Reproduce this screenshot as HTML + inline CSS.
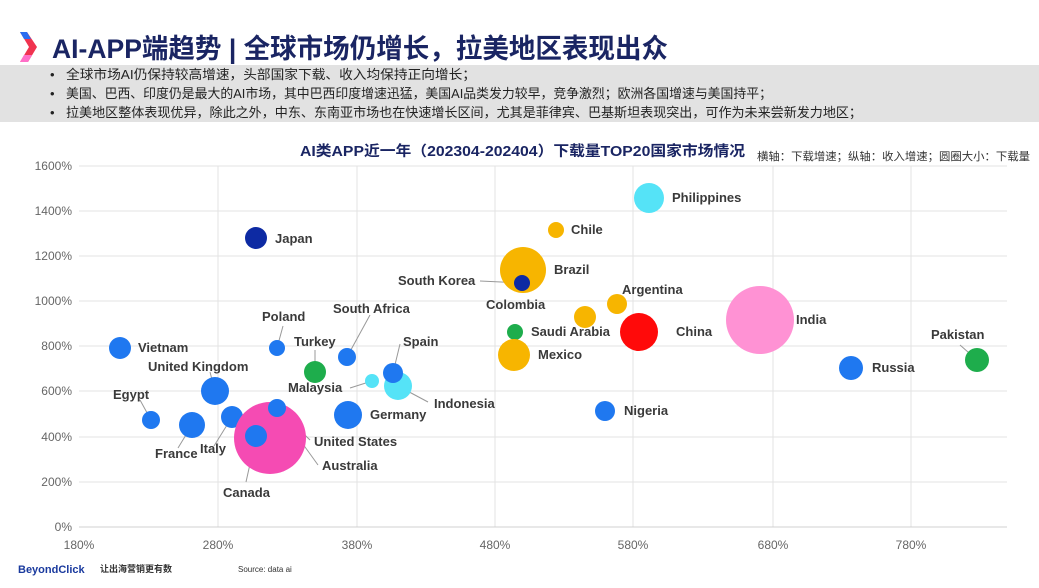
<!DOCTYPE html>
<html><head><meta charset="utf-8"><style>
body{margin:0;width:1039px;height:583px;background:#fff;overflow:hidden;font-family:"Liberation Sans","Noto Sans CJK SC",sans-serif;}
</style></head><body>
<svg width="1039" height="583" xmlns="http://www.w3.org/2000/svg" font-family="Liberation Sans, Noto Sans CJK SC, sans-serif">
<polygon points="20,32 27,32 37,47 28,62 20,62 29,47" fill="#f0334f"/>
<polygon points="20,32 27,32 31,39 24,39" fill="#2a6df0"/>
<polygon points="24,55 32,55 28,62 20,62" fill="#ff6fc8"/>
<text x="52" y="58" font-size="27" font-weight="bold" fill="#1a2563" textLength="616" lengthAdjust="spacingAndGlyphs">AI-APP端趋势 | 全球市场仍增长，拉美地区表现出众</text>
<rect x="0" y="65" width="1039" height="57" fill="#e2e2e2"/>
<g font-size="13" fill="#222">
<text x="50" y="79">•</text><text x="66" y="79" textLength="410" lengthAdjust="spacingAndGlyphs">全球市场AI仍保持较高增速，头部国家下载、收入均保持正向增长；</text>
<text x="50" y="98">•</text><text x="66" y="98" textLength="706" lengthAdjust="spacingAndGlyphs">美国、巴西、印度仍是最大的AI市场，其中巴西印度增速迅猛，美国AI品类发力较早，竞争激烈；欧洲各国增速与美国持平；</text>
<text x="50" y="117">•</text><text x="66" y="117" textLength="796" lengthAdjust="spacingAndGlyphs">拉美地区整体表现优异，除此之外，中东、东南亚市场也在快速增长区间，尤其是菲律宾、巴基斯坦表现突出，可作为未来尝新发力地区；</text>
</g>
<text x="300" y="156" font-size="14.5" font-weight="bold" fill="#1a2563" textLength="445" lengthAdjust="spacingAndGlyphs">AI类APP近一年（202304-202404）下载量TOP20国家市场情况</text>
<text x="757" y="160" font-size="11" fill="#333" textLength="273" lengthAdjust="spacingAndGlyphs">横轴：下载增速；纵轴：收入增速；圆圈大小：下载量</text>
<g stroke="#e3e3e3" stroke-width="1">
<line x1="79" y1="166" x2="1007" y2="166"/><line x1="79" y1="211" x2="1007" y2="211"/><line x1="79" y1="256" x2="1007" y2="256"/><line x1="79" y1="301" x2="1007" y2="301"/><line x1="79" y1="346" x2="1007" y2="346"/><line x1="79" y1="391" x2="1007" y2="391"/><line x1="79" y1="437" x2="1007" y2="437"/><line x1="79" y1="482" x2="1007" y2="482"/>
<line x1="218" y1="166" x2="218" y2="527"/><line x1="357" y1="166" x2="357" y2="527"/><line x1="495" y1="166" x2="495" y2="527"/><line x1="633" y1="166" x2="633" y2="527"/><line x1="773" y1="166" x2="773" y2="527"/><line x1="911" y1="166" x2="911" y2="527"/>
</g>
<line x1="79" y1="527" x2="1007" y2="527" stroke="#d0d0d0"/>
<g font-size="12" fill="#666" text-anchor="end">
<text x="72" y="170">1600%</text><text x="72" y="215">1400%</text><text x="72" y="260">1200%</text><text x="72" y="305">1000%</text><text x="72" y="350">800%</text><text x="72" y="395">600%</text><text x="72" y="441">400%</text><text x="72" y="486">200%</text><text x="72" y="531">0%</text>
</g>
<g font-size="12" fill="#666" text-anchor="middle">
<text x="79" y="549">180%</text><text x="218" y="549">280%</text><text x="357" y="549">380%</text><text x="495" y="549">480%</text><text x="633" y="549">580%</text><text x="773" y="549">680%</text><text x="911" y="549">780%</text>
</g>
<g stroke="#999" stroke-width="1" fill="none">
<line x1="256" y1="437" x2="246" y2="482"/><line x1="277" y1="408" x2="318" y2="465"/><line x1="277" y1="408" x2="310" y2="440"/>
<line x1="232" y1="417" x2="214" y2="446"/><line x1="192" y1="425" x2="178" y2="448"/><line x1="151" y1="420" x2="140" y2="400"/>
<line x1="372" y1="381" x2="350" y2="388"/><line x1="398" y1="386" x2="428" y2="402"/><line x1="393" y1="373" x2="400" y2="344"/>
<line x1="347" y1="357" x2="370" y2="315"/><line x1="277" y1="348" x2="283" y2="326"/><line x1="315" y1="372" x2="315" y2="350"/>
<line x1="522" y1="283" x2="480" y2="281"/><line x1="977" y1="360" x2="960" y2="345"/><line x1="215" y1="391" x2="210" y2="372"/>
</g>
<g>
<circle cx="649" cy="198" r="15" fill="#55e3f7"/>
<circle cx="556" cy="230" r="8" fill="#f7b500"/>
<circle cx="256" cy="238" r="11" fill="#0d2aa3"/>
<circle cx="523" cy="270" r="23" fill="#f7b500"/>
<circle cx="522" cy="283" r="8" fill="#0d2aa3"/>
<circle cx="617" cy="304" r="10" fill="#f7b500"/>
<circle cx="585" cy="317" r="11" fill="#f7b500"/>
<circle cx="515" cy="332" r="8" fill="#1ead4c"/>
<circle cx="639" cy="332" r="19" fill="#ff0a0a"/>
<circle cx="760" cy="320" r="34" fill="#ff92d4"/>
<circle cx="514" cy="355" r="16" fill="#f7b500"/>
<circle cx="120" cy="348" r="11" fill="#1f78f0"/>
<circle cx="277" cy="348" r="8" fill="#1f78f0"/>
<circle cx="347" cy="357" r="9" fill="#1f78f0"/>
<circle cx="315" cy="372" r="11" fill="#1ead4c"/>
<circle cx="372" cy="381" r="7" fill="#55e3f7"/>
<circle cx="398" cy="386" r="14" fill="#55e3f7"/>
<circle cx="393" cy="373" r="10" fill="#1f78f0"/>
<circle cx="215" cy="391" r="14" fill="#1f78f0"/>
<circle cx="977" cy="360" r="12" fill="#1ead4c"/>
<circle cx="851" cy="368" r="12" fill="#1f78f0"/>
<circle cx="151" cy="420" r="9" fill="#1f78f0"/>
<circle cx="232" cy="417" r="11" fill="#1f78f0"/>
<circle cx="605" cy="411" r="10" fill="#1f78f0"/>
<circle cx="348" cy="415" r="14" fill="#1f78f0"/>
<circle cx="192" cy="425" r="13" fill="#1f78f0"/>
<circle cx="270" cy="438" r="36" fill="#f54bb3"/>
<circle cx="277" cy="408" r="9" fill="#1f78f0"/>
<circle cx="256" cy="436" r="11" fill="#1f78f0"/>
</g>
<g font-size="13" font-weight="bold" fill="#3a3a3a">
<text x="672" y="202">Philippines</text><text x="571" y="234">Chile</text><text x="275" y="243">Japan</text>
<text x="554" y="274">Brazil</text><text x="398" y="285">South Korea</text><text x="622" y="294">Argentina</text>
<text x="486" y="309">Colombia</text><text x="531" y="336">Saudi Arabia</text><text x="676" y="336">China</text>
<text x="796" y="324">India</text><text x="538" y="359">Mexico</text><text x="138" y="352">Vietnam</text>
<text x="262" y="321">Poland</text><text x="333" y="313">South Africa</text><text x="294" y="346">Turkey</text>
<text x="403" y="346">Spain</text><text x="148" y="371">United Kingdom</text><text x="931" y="339">Pakistan</text>
<text x="872" y="372">Russia</text><text x="288" y="392">Malaysia</text><text x="434" y="408">Indonesia</text>
<text x="370" y="419">Germany</text><text x="113" y="399">Egypt</text><text x="624" y="415">Nigeria</text>
<text x="314" y="446">United States</text><text x="200" y="453">Italy</text><text x="155" y="458">France</text>
<text x="322" y="470">Australia</text><text x="223" y="497">Canada</text>
</g>
<text x="18" y="573" font-size="11" font-weight="bold" fill="#1a3a9e">BeyondClick</text>
<text x="100" y="572" font-size="9" font-weight="bold" fill="#333">让出海营销更有数</text>
<text x="238" y="572" font-size="8" fill="#333">Source:  data ai</text>
</svg>
</body></html>
